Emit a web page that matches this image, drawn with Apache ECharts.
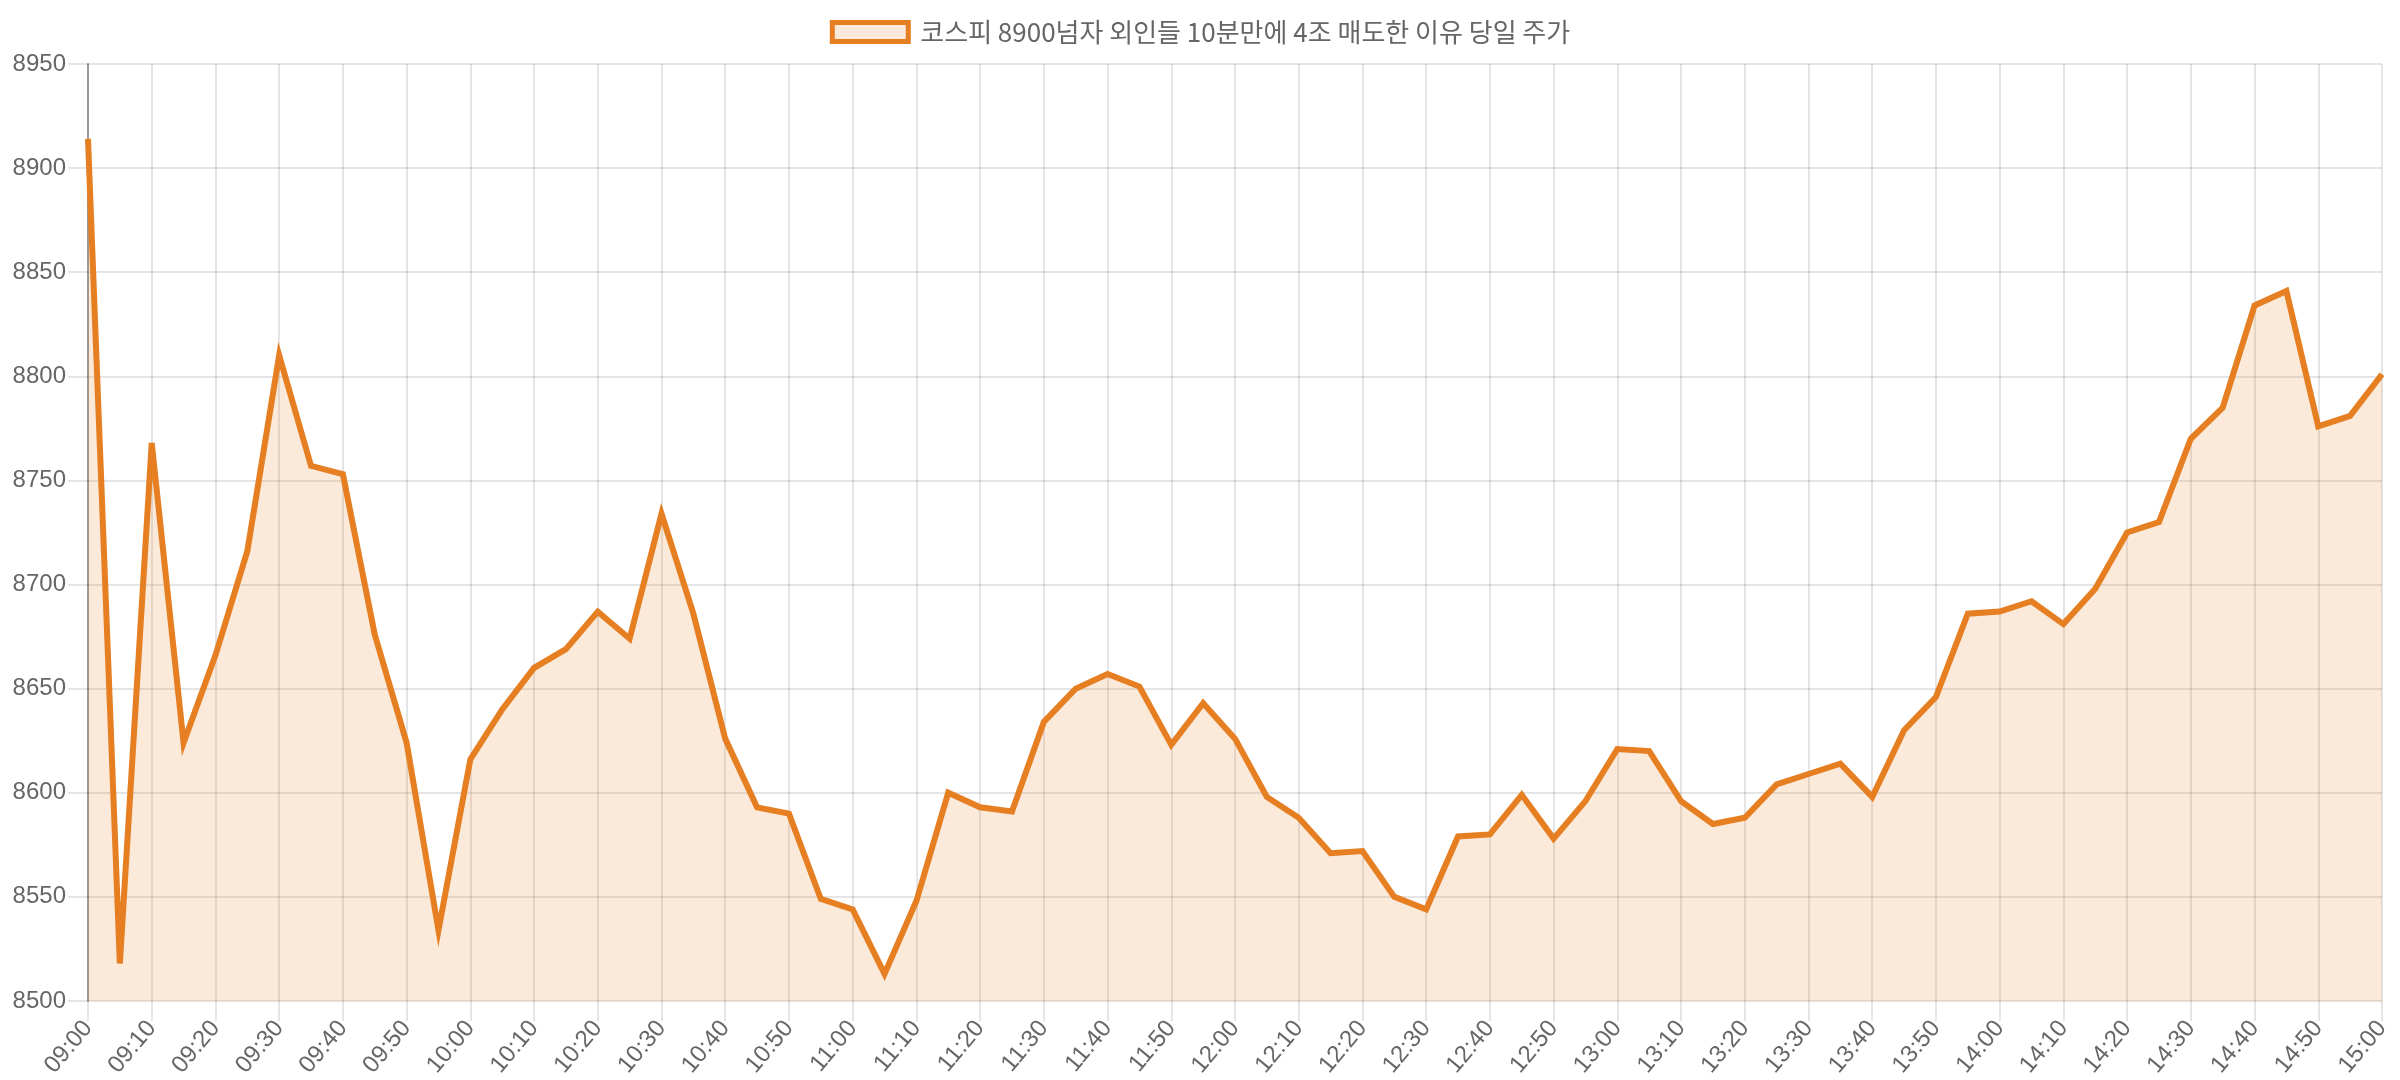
<!DOCTYPE html>
<html>
<head>
<meta charset="utf-8">
<script src="https://cdn.jsdelivr.net/npm/echarts@6/dist/echarts.min.js"></script>
<style>
  html, body { margin: 0; padding: 0; background: #fff; }
  #chart { width: 2400px; height: 1080px; }
</style>
</head>
<body>
<div id="chart"></div>
<script>
// 5분 간격 시각
const times = [
  '09:00','09:05','09:10','09:15','09:20','09:25','09:30','09:35','09:40','09:45','09:50','09:55',
  '10:00','10:05','10:10','10:15','10:20','10:25','10:30','10:35','10:40','10:45','10:50','10:55',
  '11:00','11:05','11:10','11:15','11:20','11:25','11:30','11:35','11:40','11:45','11:50','11:55',
  '12:00','12:05','12:10','12:15','12:20','12:25','12:30','12:35','12:40','12:45','12:50','12:55',
  '13:00','13:05','13:10','13:15','13:20','13:25','13:30','13:35','13:40','13:45','13:50','13:55',
  '14:00','14:05','14:10','14:15','14:20','14:25','14:30','14:35','14:40','14:45','14:50','14:55',
  '15:00'
];
// 코스피 지수
const prices = [
  8914, 8518, 8768, 8624, 8666, 8716, 8810, 8757, 8753, 8676, 8624, 8534,
  8616, 8640, 8660, 8669, 8687, 8674, 8734, 8686, 8626, 8593, 8590, 8549,
  8544, 8513, 8548, 8600, 8593, 8591, 8634, 8650, 8657, 8651, 8623, 8643,
  8626, 8598, 8588, 8571, 8572, 8550, 8544, 8579, 8580, 8599, 8578, 8596,
  8621, 8620, 8596, 8585, 8588, 8604, 8609, 8614, 8598, 8630, 8646, 8686,
  8687, 8692, 8681, 8698, 8725, 8730, 8770, 8785, 8834, 8841, 8776, 8781,
  8801
];
const seriesName = '코스피 8900넘자 외인들 10분만에 4조 매도한 이유 당일 주가';
const yMin = 8500, yMax = 8950, yStep = 50;

const lineColor = '#e67e22';
const fillColor = 'rgba(230,126,34,0.17)';
const gridColor = 'rgba(0,0,0,0.1)';

let chart = echarts.init(document.getElementById('chart'), null, { renderer: 'canvas' });
chart.setOption({
  animation: false,
  backgroundColor: '#fff',
  legend: {
    top: 14,
    left: 'center',
    icon: 'rect',
    itemWidth: 76,
    itemHeight: 19,
    itemGap: 0,
    itemStyle: {
      color: fillColor,
      opacity: 1,
      borderColor: lineColor,
      borderWidth: 5
    },
    textStyle: {
      fontSize: 26,
      color: '#666',
      fontFamily: 'Noto Sans CJK KR',
      padding: [0, 0, 0, 7]
    },
    data: [seriesName]
  },
  grid: {
    left: 88,
    right: 18,
    top: 64,
    bottom: 77,
    containLabel: false
  },
  xAxis: {
    type: 'category',
    data: times,
    boundaryGap: false,
    axisLine: { show: false },
    axisTick: {
      show: true,
      interval: 1,
      length: 20,
      lineStyle: { color: gridColor, width: 2 }
    },
    axisLabel: {
      interval: 1,
      rotate: 50,
      margin: 23,
      fontSize: 24,
      color: '#666',
      fontFamily: 'Liberation Sans'
    },
    splitLine: {
      show: true,
      interval: 1,
      lineStyle: { color: gridColor, width: 2 }
    }
  },
  yAxis: {
    type: 'value',
    min: yMin,
    max: yMax,
    interval: yStep,
    axisLine: {
      show: true,
      lineStyle: { color: 'rgba(0,0,0,0.33)', width: 2 }
    },
    axisTick: {
      show: true,
      length: 20,
      lineStyle: { color: gridColor, width: 2 }
    },
    axisLabel: {
      margin: 22,
      fontSize: 24,
      color: '#666',
      fontFamily: 'Liberation Sans',
      formatter: function (v) { return String(v); }
    },
    splitLine: {
      show: true,
      lineStyle: { color: gridColor, width: 2 }
    }
  },
  series: [
    {
      name: seriesName,
      type: 'line',
      data: prices,
      showSymbol: false,
      symbol: 'none',
      lineStyle: { color: lineColor, width: 6, join: 'miter', miterLimit: 10 },
      itemStyle: { color: lineColor },
      areaStyle: { color: fillColor, opacity: 1, origin: 'start' }
    }
  ]
});
</script>
</body>
</html>
